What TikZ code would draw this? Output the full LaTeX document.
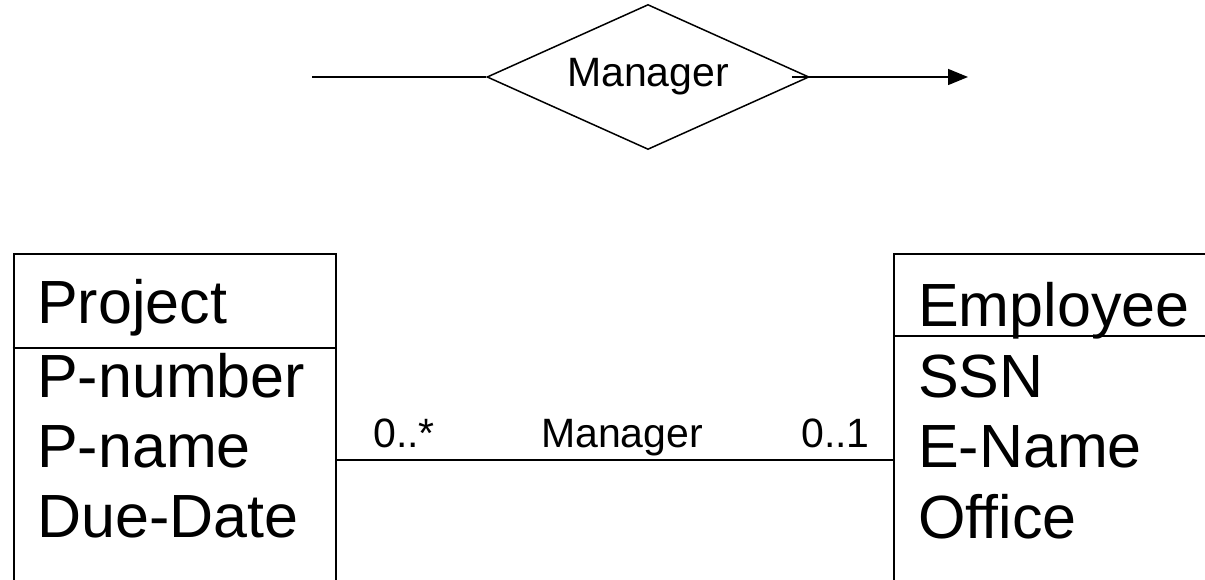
\documentclass[tikz,border=0pt]{standalone}
\usepackage{fontspec}
\setmainfont{Liberation Sans}
\usetikzlibrary{shapes.geometric,arrows.meta}
\begin{document}
\begin{tikzpicture}[x=1pt,y=-1pt,
  big/.style={font=\fontsize{61}{70}\selectfont, anchor=base west, inner sep=0pt},
  small/.style={font=\fontsize{41}{48}\selectfont, anchor=base west, inner sep=0pt},
  classbox/.style={draw, line width=2pt, rectangle, inner sep=0pt, anchor=north west},
  rule/.style={line width=1.6pt},
  rel/.style={draw, line width=1.5pt, shape=diamond, inner sep=0pt, aspect=2.2,
    minimum width=322pt, minimum height=145pt, font=\fontsize{41}{48}\selectfont},
  link/.style={line width=1.5pt}]
\useasboundingbox (0,0) rectangle (1205,580);
\clip (0,0) rectangle (1205,580);

% relationship shown as a diamond
\node[rel] (mgr) at (648,77) {Manager};
\coordinate (in) at (312,77);
\coordinate (out) at (968,77);
\draw[link] (in) -- (mgr.west);
\draw[link,-{Triangle[length=20pt,width=16pt]}] ([xshift=-18pt]mgr.east) -- (out);

% class Project
\node[classbox, minimum width=322pt, minimum height=400pt] (project) at (12.7,253) {};
\draw[rule] (project.west |- 0,348) -- (project.east |- 0,348);
\node[big] (ptitle) at (37,323) {Project};
\node[big] (pnum) at (37,397) {P-number};
\node[big] (pname) at (37,467) {P-name};
\node[big] (pdate) at (37,537) {Due-Date};

% class Employee
\node[classbox, minimum width=400pt, minimum height=400pt] (employee) at (893,253) {};
\draw[rule] (employee.west |- 0,336) -- (employee.east |- 0,336);
\node[big] (etitle) at (918,326) {Employee};
\node[big] (essn) at (918,397) {SSN};
\node[big] (ename) at (918,467) {E-Name};
\node[big] (eoffice) at (918,538) {Office};

% association with multiplicities
\draw[link] (project.east |- 0,460) -- (employee.west |- 0,460);
\node[small] (mult1) at (373,447) {0..*};
\node[small] (rname) at (541,447) {Manager};
\node[small] (mult2) at (801,447) {0..1};
\end{tikzpicture}
\end{document}
